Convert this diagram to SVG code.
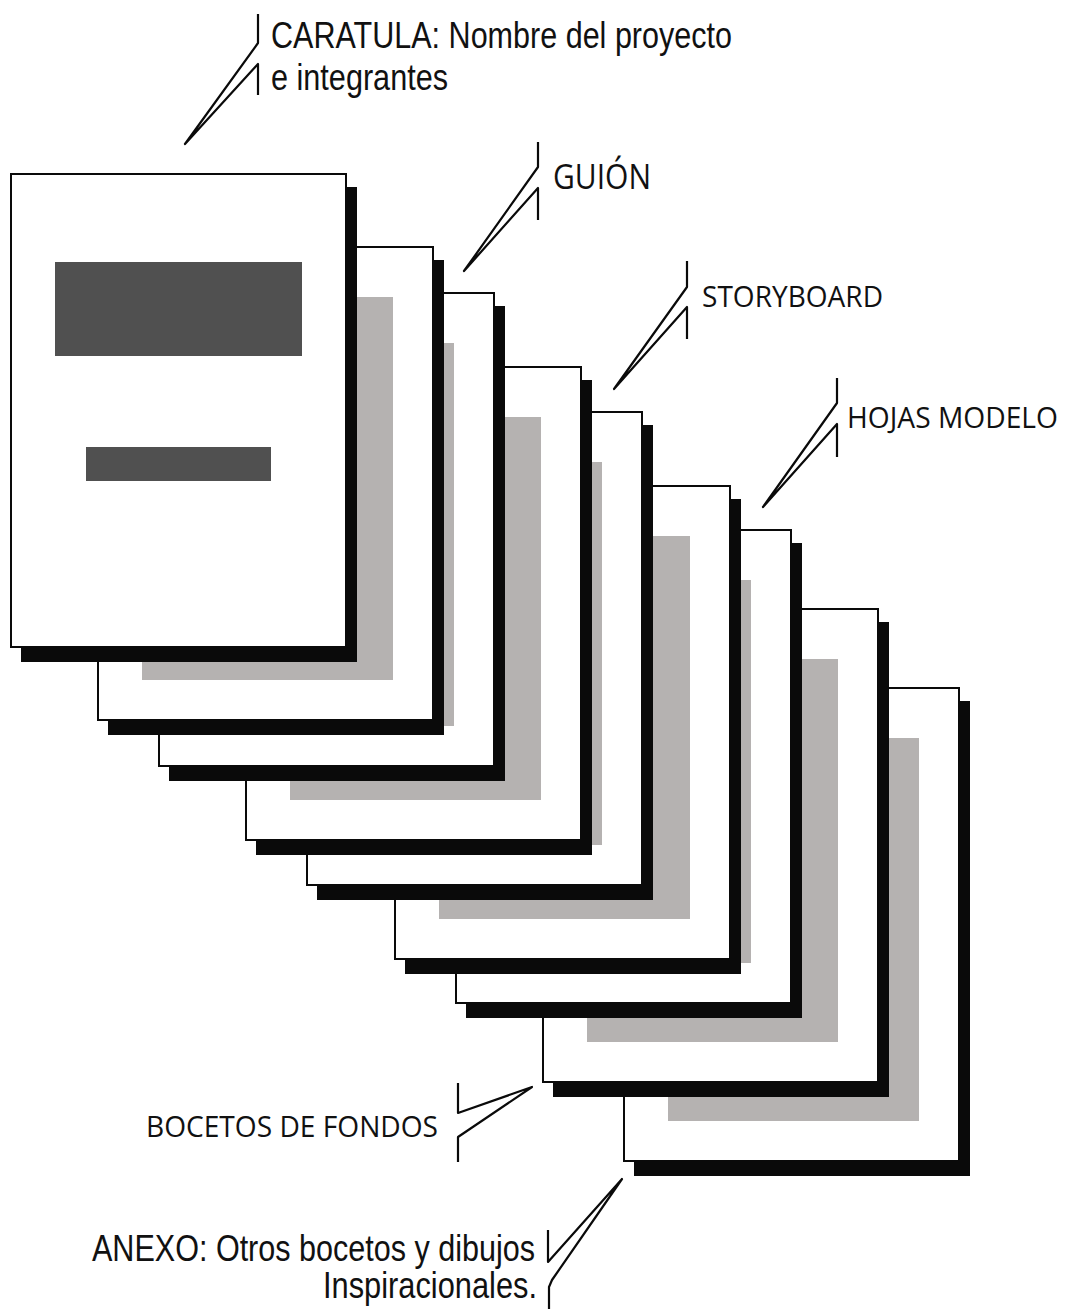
<svg xmlns="http://www.w3.org/2000/svg" width="1069" height="1309" viewBox="0 0 1069 1309">
  <style>
    .shadow { fill: #0a0a0a; }
    .sheet { fill: #ffffff; stroke: #0a0a0a; stroke-width: 2; }
    .block { fill: #b5b2b1; }
    .cover { fill: #505050; }
    .callout { fill: none; stroke: #0a0a0a; stroke-width: 2.2; stroke-linejoin: round; stroke-linecap: butt; }
    .narrow { font-family: "Liberation Sans Narrow", "Liberation Sans", Arial, sans-serif; font-size: 36px; fill: #111111; }
    .humanist { font-family: "Open Sans", "Noto Sans", "DejaVu Sans", sans-serif; fill: #111111; }
  </style>
  <defs>
    <!-- one sheet: drop shadow, white page, grey content block -->
    <g id="sheet">
      <rect class="shadow" x="10" y="13" width="336" height="475"/>
      <rect class="sheet" x="0" y="0" width="335" height="473"/>
      <rect class="block" x="44" y="50" width="251" height="383"/>
    </g>
  </defs>

  <rect width="1069" height="1309" fill="#ffffff"/>

  <!-- stack of sheets, back to front -->
  <g id="sheet-anexo"><use href="#sheet" x="624" y="688"/></g>
  <g id="sheet-bocetos"><use href="#sheet" x="543" y="609"/></g>
  <g id="sheet-7"><use href="#sheet" x="456" y="530"/></g>
  <g id="sheet-hojas-modelo"><use href="#sheet" x="395" y="486"/></g>
  <g id="sheet-5"><use href="#sheet" x="307" y="412"/></g>
  <g id="sheet-storyboard"><use href="#sheet" x="246" y="367"/></g>
  <g id="sheet-3"><use href="#sheet" x="159" y="293"/></g>
  <g id="sheet-guion"><use href="#sheet" x="98" y="247"/></g>
  <g id="sheet-caratula">
    <rect class="shadow" x="21" y="187" width="336" height="475"/>
    <rect class="sheet" x="11" y="174" width="335" height="473"/>
    <rect class="cover" x="55" y="262" width="247" height="94"/>
    <rect class="cover" x="86" y="447" width="185" height="34"/>
  </g>

  <!-- callout leaders -->
  <g id="connectors">
    <polyline class="callout" points="258,14 258,43 185,144 258,64 258,95"/>
    <polyline class="callout" points="538,142 538,167 464,271 538,188 538,220"/>
    <polyline class="callout" points="687,261 687,287 614,389 687,307 687,339"/>
    <polyline class="callout" points="837,378 837,403 763,507 837,424 837,457"/>
    <polyline class="callout" points="458,1083 458,1113 532,1087 458,1137 458,1162"/>
    <polyline class="callout" points="548,1230 548,1262 622,1179 552,1280 549,1287 549,1309"/>
  </g>

  <!-- labels -->
  <g id="label-caratula">
    <text class="narrow" x="271" y="48" textLength="461" lengthAdjust="spacingAndGlyphs">CARATULA: Nombre del proyecto</text>
    <text class="narrow" x="271" y="90" textLength="177" lengthAdjust="spacingAndGlyphs">e integrantes</text>
  </g>
  <g id="label-guion">
    <text class="humanist" x="553" y="189" font-size="34" textLength="98" lengthAdjust="spacingAndGlyphs">GUIÓN</text>
  </g>
  <g id="label-storyboard">
    <text class="humanist" x="702" y="307" font-size="29" textLength="181" lengthAdjust="spacingAndGlyphs">STORYBOARD</text>
  </g>
  <g id="label-hojas-modelo">
    <text class="humanist" x="847" y="428" font-size="30" textLength="211" lengthAdjust="spacingAndGlyphs">HOJAS MODELO</text>
  </g>
  <g id="label-bocetos">
    <text class="humanist" x="146" y="1137" font-size="30" textLength="292" lengthAdjust="spacingAndGlyphs">BOCETOS DE FONDOS</text>
  </g>
  <g id="label-anexo">
    <text class="narrow" x="92" y="1261" textLength="443" lengthAdjust="spacingAndGlyphs">ANEXO: Otros bocetos y dibujos</text>
    <text class="narrow" x="323" y="1298" textLength="214" lengthAdjust="spacingAndGlyphs">Inspiracionales.</text>
  </g>
</svg>
